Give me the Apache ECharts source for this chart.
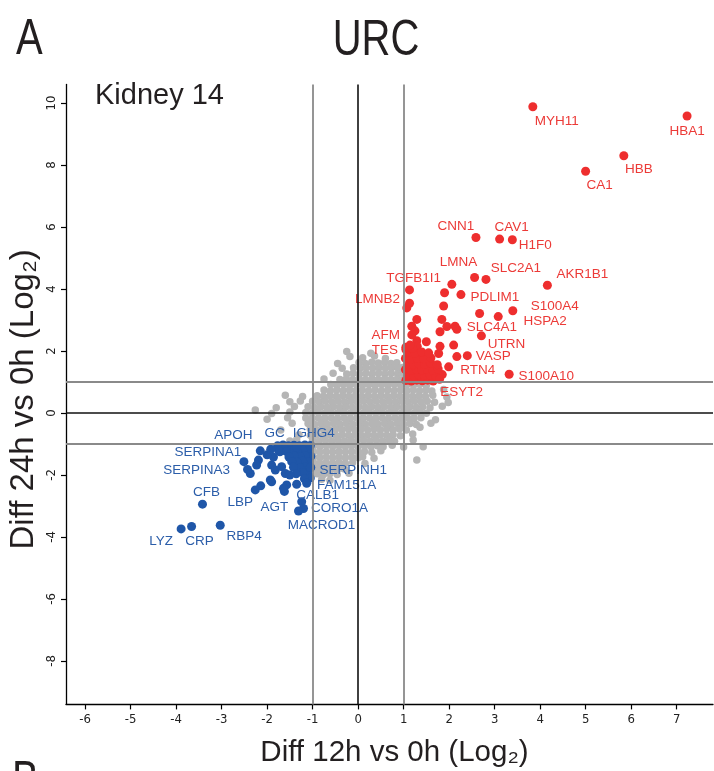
<!DOCTYPE html>
<html><head><meta charset="utf-8">
<script src="https://cdn.jsdelivr.net/npm/echarts@6/dist/echarts.min.js"></script>
<style>html,body{margin:0;padding:0;background:#fff}#c{width:714px;height:771px}</style>
</head><body><div id="c"></div>
<script>
// ---- tick labels ----
const xTicks = [-6,-5,-4,-3,-2,-1,0,1,2,3,4,5,6,7];
const yTicks = [-8,-6,-4,-2,0,2,4,6,8,10];
const refX = [-1,0,1];
const refY = [-1,0,1];

// ---- unchanged proteins (grey) ----
const greyPts = [
[-0.25,1.98],[0.28,1.93],
[-0.18,1.82],[0.1,1.78],[0.36,1.84],[0.6,1.76],
[-0.45,1.6],[0.02,1.63],[0.16,1.6],[0.3,1.64],[0.44,1.61],[0.58,1.63],[0.72,1.6],[0.85,1.62],
[-0.35,1.44],[-0.1,1.46],[0.04,1.44],[0.18,1.46],[0.32,1.44],[0.46,1.46],[0.6,1.44],[0.74,1.46],[0.88,1.44],[0.97,1.47],
[-0.55,1.28],[-0.25,1.26],[-0.11,1.28],[0.03,1.26],[0.17,1.28],[0.31,1.26],[0.45,1.28],[0.59,1.26],[0.73,1.28],[0.87,1.26],[0.98,1.29],
[-0.75,1.1],[-0.4,1.08],[-0.26,1.1],[-0.12,1.08],[0.02,1.1],[0.16,1.08],[0.3,1.1],[0.44,1.08],[0.58,1.1],[0.72,1.08],[0.86,1.1],[0.97,1.07],
[-0.6,0.92],[-0.46,0.9],[-0.32,0.92],[-0.18,0.9],[-0.04,0.92],[0.1,0.9],[0.24,0.92],[0.38,0.9],[0.52,0.92],[0.66,0.9],[0.8,0.92],[0.94,0.9],[1.08,0.92],[1.22,0.9],[1.36,0.93],[1.5,0.89],
[-0.75,0.74],[-0.61,0.72],[-0.47,0.74],[-0.33,0.72],[-0.19,0.74],[-0.05,0.72],[0.09,0.74],[0.23,0.72],[0.37,0.74],[0.51,0.72],[0.65,0.74],[0.79,0.72],[0.93,0.74],[1.07,0.72],[1.21,0.74],[1.35,0.72],[1.49,0.74],[1.62,0.71],[1.88,0.76],
[-1.6,0.57],[-1.22,0.53],[-0.9,0.56],[-0.76,0.54],[-0.62,0.56],[-0.48,0.54],[-0.34,0.56],[-0.2,0.54],[-0.06,0.56],[0.08,0.54],[0.22,0.56],[0.36,0.54],[0.5,0.56],[0.64,0.54],[0.78,0.56],[0.92,0.54],[1.06,0.56],[1.2,0.54],[1.34,0.56],[1.48,0.54],[1.64,0.57],[1.95,0.52],
[-1.5,0.36],[-1.27,0.39],[-1.0,0.38],[-0.86,0.36],[-0.72,0.38],[-0.58,0.36],[-0.44,0.38],[-0.3,0.36],[-0.16,0.38],[-0.02,0.36],[0.12,0.38],[0.26,0.36],[0.4,0.38],[0.54,0.36],[0.68,0.38],[0.82,0.36],[0.96,0.38],[1.1,0.36],[1.24,0.38],[1.38,0.36],[1.52,0.38],[1.68,0.35],[1.98,0.34],
[-1.8,0.17],[-1.4,0.21],[-1.1,0.2],[-0.96,0.18],[-0.82,0.2],[-0.68,0.18],[-0.54,0.2],[-0.4,0.18],[-0.26,0.2],[-0.12,0.18],[0.02,0.2],[0.16,0.18],[0.3,0.2],[0.44,0.18],[0.58,0.2],[0.72,0.18],[0.86,0.2],[1.0,0.18],[1.14,0.2],[1.28,0.18],[1.42,0.2],[1.58,0.17],[1.85,0.22],
[-2.26,0.1],[-1.9,-0.02],[-1.5,0.03],[-1.15,0.02],[-1.01,0.0],[-0.87,0.02],[-0.73,0.0],[-0.59,0.02],[-0.45,0.0],[-0.31,0.02],[-0.17,0.0],[-0.03,0.02],[0.11,0.0],[0.25,0.02],[0.39,0.0],[0.53,0.02],[0.67,0.0],[0.81,0.02],[0.95,0.0],[1.09,0.02],[1.23,0.0],[1.37,0.02],[1.5,-0.01],
[-2.0,-0.2],[-1.55,-0.15],[-1.15,-0.16],[-1.01,-0.18],[-0.87,-0.16],[-0.73,-0.18],[-0.59,-0.16],[-0.45,-0.18],[-0.31,-0.16],[-0.17,-0.18],[-0.03,-0.16],[0.11,-0.18],[0.25,-0.16],[0.39,-0.18],[0.53,-0.16],[0.67,-0.18],[0.81,-0.16],[0.95,-0.18],[1.09,-0.16],[1.23,-0.18],[1.38,-0.15],[1.7,-0.22],
[-1.45,-0.33],[-1.1,-0.34],[-0.96,-0.36],[-0.82,-0.34],[-0.68,-0.36],[-0.54,-0.34],[-0.4,-0.36],[-0.26,-0.34],[-0.12,-0.36],[0.02,-0.34],[0.16,-0.36],[0.3,-0.34],[0.44,-0.36],[0.58,-0.34],[0.72,-0.36],[0.86,-0.34],[1.0,-0.36],[1.14,-0.34],[1.28,-0.37],[1.6,-0.33],
[-1.7,-0.55],[-1.05,-0.52],[-0.91,-0.54],[-0.77,-0.52],[-0.63,-0.54],[-0.49,-0.52],[-0.35,-0.54],[-0.21,-0.52],[-0.07,-0.54],[0.07,-0.52],[0.21,-0.54],[0.35,-0.52],[0.49,-0.54],[0.63,-0.52],[0.77,-0.54],[0.91,-0.52],[1.06,-0.55],[1.36,-0.46],
[-1.3,-0.7],[-1.05,-0.72],[-0.91,-0.7],[-0.77,-0.72],[-0.63,-0.7],[-0.49,-0.72],[-0.35,-0.7],[-0.21,-0.72],[-0.07,-0.7],[0.07,-0.72],[0.21,-0.7],[0.35,-0.72],[0.49,-0.7],[0.63,-0.72],[0.77,-0.7],[0.93,-0.73],[1.2,-0.68],
[-1.5,-0.9],[-1.35,-0.86],[-1.0,-0.88],[-0.86,-0.9],[-0.72,-0.88],[-0.58,-0.9],[-0.44,-0.88],[-0.3,-0.9],[-0.16,-0.88],[-0.02,-0.9],[0.12,-0.88],[0.26,-0.9],[0.4,-0.88],[0.54,-0.9],[0.68,-0.88],[0.8,-0.91],[1.21,-0.87],
[-0.98,-1.06],[-0.84,-1.08],[-0.7,-1.06],[-0.56,-1.08],[-0.42,-1.06],[-0.28,-1.08],[-0.14,-1.06],[0.0,-1.08],[0.14,-1.06],[0.28,-1.08],[0.42,-1.06],[0.55,-1.09],[0.75,-1.04],[1.0,-1.1],[1.43,-1.09],
[-0.98,-1.24],[-0.84,-1.26],[-0.7,-1.24],[-0.56,-1.26],[-0.42,-1.24],[-0.28,-1.26],[-0.14,-1.24],[0.0,-1.26],[0.14,-1.24],[0.3,-1.27],[0.5,-1.22],
[-0.98,-1.42],[-0.84,-1.44],[-0.7,-1.42],[-0.56,-1.44],[-0.42,-1.42],[-0.28,-1.44],[-0.14,-1.42],[0.0,-1.44],[0.1,-1.41],[0.35,-1.46],[1.29,-1.52],
[-0.98,-1.6],[-0.84,-1.62],[-0.7,-1.6],[-0.56,-1.62],[-0.42,-1.6],[-0.28,-1.62],[-0.12,-1.6],[0.15,-1.63],
[-0.95,-1.78],[-0.81,-1.8],[-0.67,-1.78],[-0.53,-1.8],[-0.4,-1.78],[-0.3,-1.81],
[-0.9,-1.96],[-0.76,-1.98],[-0.62,-1.96],[-0.46,-1.98],[-0.2,-1.94],
[-0.8,-2.14],[-0.62,-2.17]
];

// ---- up-regulated (red), unlabeled ----
const redPts = [
[2.06,4.15],[1.9,3.88],[1.07,3.39],[1.88,3.45],[2.67,3.21],[1.29,3.02],[1.84,3.02],[1.18,2.8],[1.25,2.65],
[1.8,2.62],[1.95,2.79],[2.13,2.8],[1.29,2.33],[1.8,2.15],[2.1,2.19],[1.77,1.92],[2.17,1.82],[1.05,2.05],[1.3,2.15],[1.5,2.3],
[1.05,1.05],[1.17,1.03],[1.29,1.06],[1.41,1.04],[1.53,1.06],[1.65,1.03],
[1.1,1.22],[1.22,1.2],[1.34,1.23],[1.46,1.21],[1.58,1.23],[1.7,1.2],[1.85,1.24],
[1.04,1.4],[1.16,1.38],[1.28,1.41],[1.4,1.39],[1.52,1.41],[1.64,1.38],[1.76,1.42],
[1.1,1.58],[1.22,1.56],[1.34,1.59],[1.46,1.57],[1.6,1.6],[1.74,1.56],
[1.04,1.76],[1.16,1.74],[1.3,1.77],[1.45,1.75],[1.6,1.78],
[1.1,1.95],[1.25,1.93],[1.4,1.97],[1.55,1.94],
[1.05,2.12],[1.2,2.08]
];
const redNames = ['MYH11','HBA1','HBB','CA1','CNN1','CAV1','H1F0','LMNA','SLC2A1','AKR1B1','TGFB1I1','PDLIM1','LMNB2','S100A4','HSPA2','SLC4A1','UTRN','AFM','TES','VASP','RTN4','S100A10','ESYT2'];
const redX = [3.84,7.23,5.84,5.0,2.59,3.11,3.39,2.56,2.81,4.16,1.13,2.26,1.13,3.4,3.08,2.17,2.71,1.18,1.14,2.4,1.99,3.32,1.79];
const redY = [9.88,9.58,8.30,7.8,5.66,5.61,5.59,4.37,4.31,4.12,3.97,3.82,3.54,3.3,3.11,2.7,2.49,2.52,2.19,1.85,1.49,1.25,1.09];

// ---- down-regulated (blue), unlabeled ----
const bluePts = [
[-1.05,-1.05],[-1.17,-1.03],[-1.29,-1.06],[-1.41,-1.04],[-1.53,-1.06],[-1.65,-1.03],[-1.77,-1.06],
[-1.1,-1.22],[-1.22,-1.2],[-1.34,-1.23],[-1.46,-1.21],[-1.58,-1.24],[-1.72,-1.25],
[-1.04,-1.4],[-1.16,-1.38],[-1.28,-1.41],[-1.4,-1.39],[-1.52,-1.42],
[-1.1,-1.58],[-1.22,-1.56],[-1.34,-1.59],[-1.46,-1.57],
[-1.04,-1.76],[-1.16,-1.74],[-1.28,-1.77],[-1.42,-1.75],
[-1.1,-1.94],[-1.22,-1.92],[-1.36,-1.96],
[-1.05,-2.1],[-1.18,-2.12],
[-1.76,-1.17],[-2.19,-1.52],[-2.23,-1.68],[-2.37,-1.95],[-1.9,-1.68],[-1.82,-1.84],[-1.68,-1.73],[-1.6,-1.95],[-1.5,-2.0],
[-1.93,-2.16],[-1.9,-2.22],[-2.14,-2.35],[-1.57,-2.32],[-1.62,-2.53],[-1.24,-2.86],[-1.86,-1.42],[-2.0,-1.35]
];
const blueNames = ['APOH','GC','IGHG4','SERPINA1','SERPINA3','CFB','LBP','AGT','SERPINH1','FAM151A','CALB1','CORO1A','MACROD1','LYZ','CRP','RBP4'];
const blueX = [-2.15,-1.92,-1.35,-2.51,-2.43,-3.42,-2.26,-1.64,-1.05,-1.13,-1.35,-1.2,-1.31,-3.89,-3.66,-3.03];
const blueY = [-1.22,-1.17,-1.1,-1.57,-1.82,-2.94,-2.48,-2.43,-1.75,-2.27,-2.3,-3.08,-3.16,-3.74,-3.66,-3.62];

// ---- label placement (pixel offsets of label centre from its point) ----
const labelOffset = {
  MYH11:[24,15], HBA1:[0,15], HBB:[15,14], CA1:[14,14], CNN1:[-20,-11], CAV1:[12,-12], H1F0:[23,6],
  LMNA:[-16,-15], SLC2A1:[30,-11], AKR1B1:[35,-11], TGFB1I1:[4,-12], PDLIM1:[34,3], LMNB2:[-32,-4],
  S100A4:[42,-4], HSPA2:[47,5], SLC4A1:[35,-2], UTRN:[25,8], AFM:[-26,0], TES:[-25,5], VASP:[26,1],
  RTN4:[29,3], S100A10:[37,2], ESYT2:[22,13],
  APOH:[-27,-16], GC:[4,-16], IGHG4:[17,-14], SERPINA1:[-36,-9], SERPINA3:[-51,1], CFB:[4,-12],
  LBP:[-15,12], AGT:[-9,19], SERPINH1:[43,3], FAM151A:[40,2], CALB1:[21,11], CORO1A:[36,0],
  MACROD1:[23,14], LYZ:[-20,12], CRP:[8,15], RBP4:[24,11]
};

const TICK_FONT = "'Liberation Sans Narrow','DejaVu Sans Condensed','Liberation Sans',sans-serif";
const LABEL_FONT = "'Liberation Sans',Arial,sans-serif";
const RED = '#EE2E2E', RED_TXT = '#EC3A37';
const BLUE = '#1F56A8', BLUE_TXT = '#2B5DA9';

function labeled(names, xs, ys) {
  return names.map((n, i) => ({
    name: n, value: [xs[i], ys[i]],
    label: { show: true, position: 'inside', offset: labelOffset[n], formatter: n }
  }));
}

const chart = echarts.init(document.getElementById('c'), null, {renderer: 'canvas'});
const lineStyle0 = {color: '#111', width: 1.6, type: 'solid', opacity: 1};
const lineStyle1 = {color: '#8a8a8a', width: 1.8, type: 'solid', opacity: 1};

function bigText(t, x, y, align) {
  return {type: 'text', x: x, y: y, scaleX: 0.8,
    style: {text: t, x: 0, y: 0, fill: '#231f20', font: '50px ' + LABEL_FONT, textAlign: align, textVerticalAlign: 'middle'}};
}

chart.setOption({
  animation: false,
  backgroundColor: '#fff',
  grid: {left: 66, right: 1, top: 84.4, bottom: 66.6, containLabel: false, outerBoundsMode: 'none'},
  xAxis: {
    type: 'value', min: -6.42, max: 7.8,
    splitLine: {show: false},
    axisLine: {show: true, onZero: false, lineStyle: {color: '#000', width: 1.3}},
    axisTick: {show: true, length: 5, customValues: xTicks, lineStyle: {color: '#000', width: 1.2}},
    axisLabel: {customValues: xTicks, fontSize: 13, color: '#222', margin: 9, fontFamily: TICK_FONT},
    name: 'Diff 12h vs 0h (Log\u2082)', nameLocation: 'middle', nameGap: 33, nameMoveOverlap: false,
    nameTextStyle: {fontSize: 29.5, color: '#231f20', fontFamily: LABEL_FONT, padding: [0, 0, 0, 10]}
  },
  yAxis: {
    type: 'value', min: -9.4, max: 10.6,
    splitLine: {show: false},
    axisLine: {show: true, onZero: false, lineStyle: {color: '#000', width: 1.3}},
    axisTick: {show: true, length: 5, customValues: yTicks, lineStyle: {color: '#000', width: 1.2}},
    axisLabel: {customValues: yTicks, rotate: 90, fontSize: 13, color: '#222', margin: 8, fontFamily: TICK_FONT},
    name: 'Diff 24h vs 0h (Log\u2082)', nameLocation: 'middle', nameGap: 26, nameMoveOverlap: false,
    nameTextStyle: {fontSize: 33, color: '#231f20', fontFamily: LABEL_FONT, padding: [0, 10, 0, 0]}
  },
  graphic: [
    bigText('A', 16, 40, 'left'),
    bigText('URC', 376, 41, 'center'),
    {type: 'text', style: {text: 'Kidney 14', x: 95, y: 96, fill: '#231f20', font: '29px ' + LABEL_FONT, textVerticalAlign: 'middle'}},
    bigText('B', 12, 782, 'left')
  ],
  series: [
    {
      type: 'scatter', name: 'unchanged', z: 1, symbolSize: 7.5, silent: true,
      itemStyle: {color: '#b5b5b5', opacity: 1},
      data: greyPts
    },
    {
      type: 'scatter', name: 'ref', z: 2, data: [], silent: true,
      markLine: {
        silent: true, symbol: 'none', animation: false, label: {show: false},
        data: refX.map(v => ({xAxis: v, lineStyle: v === 0 ? lineStyle0 : lineStyle1}))
          .concat(refY.map(v => ({yAxis: v, lineStyle: v === 0 ? lineStyle0 : lineStyle1})))
      }
    },
    {
      type: 'scatter', name: 'up', z: 3, symbolSize: 9, silent: true,
      itemStyle: {color: RED, opacity: 1},
      label: {show: false, color: RED_TXT, fontSize: 13.5, fontFamily: LABEL_FONT},
      data: redPts.map(p => ({value: p})).concat(labeled(redNames, redX, redY))
    },
    {
      type: 'scatter', name: 'down', z: 3, symbolSize: 9, silent: true,
      itemStyle: {color: BLUE, opacity: 1},
      label: {show: false, color: BLUE_TXT, fontSize: 13.5, fontFamily: LABEL_FONT},
      data: bluePts.map(p => ({value: p})).concat(labeled(blueNames, blueX, blueY))
    }
  ]
});
</script>
</body></html>
